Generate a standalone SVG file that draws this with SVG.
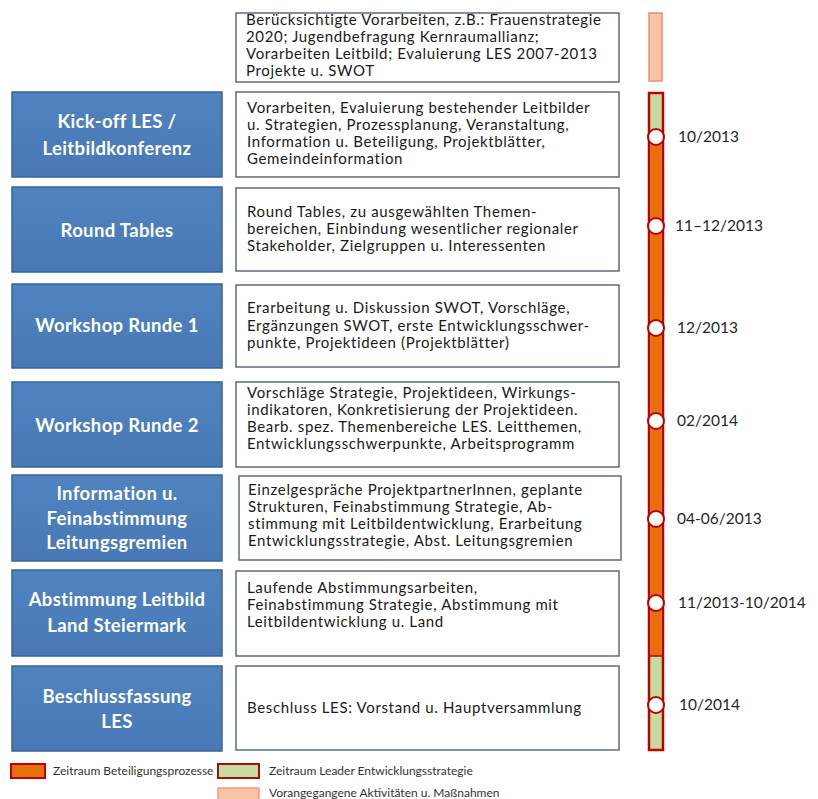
<svg xmlns="http://www.w3.org/2000/svg" width="818" height="799" viewBox="0 0 818 799">
<defs>
<linearGradient id="bg" x1="0" y1="0" x2="0" y2="1">
<stop offset="0" stop-color="#4f83c0"/>
<stop offset="1" stop-color="#4879b6"/>
</linearGradient>
</defs>
<style>
.phase{fill:url(#bg);stroke:#3a6394;stroke-width:1.5}
.ptxt{font-family:Lato,"Open Sans",sans-serif;font-weight:bold;font-size:18.5px;letter-spacing:0.35px;fill:#ffffff;text-anchor:middle}
.desc{fill:#ffffff;stroke:#5f6b7a;stroke-width:1.5}
.dtxt{font-family:Lato,"Open Sans",sans-serif;font-size:15px;letter-spacing:0.65px;fill:#1a1a1a}
.date{font-family:Lato,"Open Sans",sans-serif;font-size:15.5px;fill:#262626}
.leg{font-family:Lato,"Open Sans",sans-serif;font-size:12px;fill:#333333}
.dot{fill:#ffffff;stroke:#c00000;stroke-width:2}
</style>
<rect width="818" height="799" fill="#ffffff"/>

<g id="pre">
<rect class="desc" x="236" y="13" width="383" height="69"/>
<text class="dtxt"><tspan x="246" y="25">Berücksichtigte Vorarbeiten, z.B.: Frauenstrategie</tspan><tspan x="246" y="42">2020; Jugendbefragung Kernraumallianz;</tspan><tspan x="246" y="59">Vorarbeiten Leitbild; Evaluierung LES 2007-2013</tspan><tspan x="246" y="76">Projekte u. SWOT</tspan></text>
</g>

<g id="kickoff">
<rect class="phase" x="12" y="92" width="210" height="85"/>
<text class="ptxt"><tspan x="117" y="128">Kick-off LES /</tspan><tspan x="117" y="155">Leitbildkonferenz</tspan></text>
<rect class="desc" x="236" y="92" width="383" height="85"/>
<text class="dtxt"><tspan x="247" y="113">Vorarbeiten, Evaluierung bestehender Leitbilder</tspan><tspan x="247" y="130">u. Strategien, Prozessplanung, Veranstaltung,</tspan><tspan x="247" y="147">Information u. Beteiligung, Projektblätter,</tspan><tspan x="247" y="164">Gemeindeinformation</tspan></text>
</g>

<g id="roundtables">
<rect class="phase" x="12" y="187" width="210" height="85"/>
<text class="ptxt" x="117" y="237">Round Tables</text>
<rect class="desc" x="236" y="188" width="383" height="83"/>
<text class="dtxt"><tspan x="247" y="217">Round Tables, zu ausgewählten Themen-</tspan><tspan x="247" y="234">bereichen, Einbindung wesentlicher regionaler</tspan><tspan x="247" y="251">Stakeholder, Zielgruppen u. Interessenten</tspan></text>
</g>

<g id="workshop1">
<rect class="phase" x="12" y="284" width="210" height="84"/>
<text class="ptxt" x="117" y="332">Workshop Runde 1</text>
<rect class="desc" x="236" y="285" width="383" height="82"/>
<text class="dtxt"><tspan x="247" y="313">Erarbeitung u. Diskussion SWOT, Vorschläge,</tspan><tspan x="247" y="331">Ergänzungen SWOT, erste Entwicklungsschwer-</tspan><tspan x="247" y="348">punkte, Projektideen (Projektblätter)</tspan></text>
</g>

<g id="workshop2">
<rect class="phase" x="12" y="382" width="210" height="85"/>
<text class="ptxt" x="117" y="432">Workshop Runde 2</text>
<rect class="desc" x="236" y="382" width="383" height="85"/>
<text class="dtxt"><tspan x="247" y="398">Vorschläge Strategie, Projektideen, Wirkungs-</tspan><tspan x="247" y="415">indikatoren, Konkretisierung der Projektideen.</tspan><tspan x="247" y="432">Bearb. spez. Themenbereiche LES. Leitthemen,</tspan><tspan x="247" y="449">Entwicklungsschwerpunkte, Arbeitsprogramm</tspan></text>
</g>

<g id="information">
<rect class="phase" x="12" y="475" width="210" height="86"/>
<text class="ptxt"><tspan x="117" y="500">Information u.</tspan><tspan x="117" y="525">Feinabstimmung</tspan><tspan x="117" y="549">Leitungsgremien</tspan></text>
<rect class="desc" x="239" y="476" width="382" height="84"/>
<text class="dtxt"><tspan x="248" y="495">Einzelgespräche ProjektpartnerInnen, geplante</tspan><tspan x="248" y="512">Strukturen, Feinabstimmung Strategie, Ab-</tspan><tspan x="248" y="529">stimmung mit Leitbildentwicklung, Erarbeitung</tspan><tspan x="248" y="546">Entwicklungsstrategie, Abst. Leitungsgremien</tspan></text>
</g>

<g id="abstimmung">
<rect class="phase" x="12" y="570" width="210" height="86"/>
<text class="ptxt"><tspan x="117" y="606">Abstimmung Leitbild</tspan><tspan x="117" y="632">Land Steiermark</tspan></text>
<rect class="desc" x="236" y="571" width="383" height="85"/>
<text class="dtxt"><tspan x="247" y="593">Laufende Abstimmungsarbeiten,</tspan><tspan x="247" y="610">Feinabstimmung Strategie, Abstimmung mit</tspan><tspan x="247" y="627">Leitbildentwicklung u. Land</tspan></text>
</g>

<g id="beschluss">
<rect class="phase" x="12" y="666" width="210" height="85"/>
<text class="ptxt"><tspan x="117" y="703">Beschlussfassung</tspan><tspan x="117" y="728">LES</tspan></text>
<rect class="desc" x="236" y="666" width="383" height="84"/>
<text class="dtxt" x="247" y="713">Beschluss LES: Vorstand u. Hauptversammlung</text>
</g>

<g id="timeline">
<rect x="649" y="13" width="13" height="68" fill="#f8c3a0" stroke="#e8907a" stroke-width="1.5"/>
<rect x="649" y="93" width="14" height="657" fill="#c6dba0" stroke="#c00000" stroke-width="2.5"/>
<rect x="650.2" y="137" width="11.6" height="519" fill="#e8700c"/>
<line x1="649" y1="656" x2="663" y2="656" stroke="#c00000" stroke-width="1.5"/>
<circle class="dot" cx="656" cy="137" r="8"/>
<circle class="dot" cx="656" cy="226" r="8"/>
<circle class="dot" cx="656" cy="328" r="8"/>
<circle class="dot" cx="656" cy="421" r="8"/>
<circle class="dot" cx="656" cy="519" r="8"/>
<circle class="dot" cx="656" cy="603" r="8"/>
<circle class="dot" cx="656" cy="705" r="8"/>
<text class="date" x="678" y="142">10/2013</text>
<text class="date" x="675" y="231">11–12/2013</text>
<text class="date" x="677" y="333">12/2013</text>
<text class="date" x="677" y="426">02/2014</text>
<text class="date" x="677" y="524">04-06/2013</text>
<text class="date" x="678" y="608">11/2013-10/2014</text>
<text class="date" x="679" y="710">10/2014</text>
</g>

<g id="legend">
<rect x="11" y="764" width="34" height="14" fill="#e8700c" stroke="#c00000" stroke-width="2"/>
<text class="leg" x="53" y="775">Zeitraum Beteiligungsprozesse</text>
<rect x="218" y="764" width="41" height="14" fill="#c6dba0" stroke="#a01010" stroke-width="2"/>
<text class="leg" x="269" y="775">Zeitraum Leader Entwicklungsstrategie</text>
<rect x="218" y="788" width="41" height="12" fill="#f8c3a0" stroke="#e8a08a" stroke-width="1.5"/>
<text class="leg" x="269" y="797">Vorangegangene Aktivitäten u. Maßnahmen</text>
</g>
</svg>
